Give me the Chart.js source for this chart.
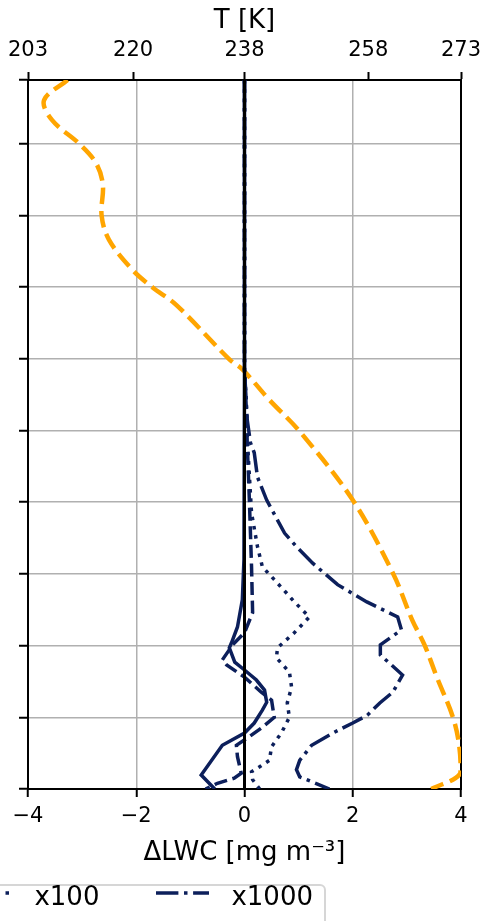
<!DOCTYPE html>
<html>
<head>
<meta charset="utf-8">
<script src="https://cdn.jsdelivr.net/npm/chart.js"></script>
<style>
  html, body { margin: 0; padding: 0; background: #fff; overflow: hidden; }
  body { width: 485px; height: 921px; position: relative; font-family: 'DejaVu Sans', sans-serif; }
  #c { position: absolute; left: 0; top: 0; }
  #legendBox {
    position: absolute; left: -340px; top: 884px; width: 666px; height: 70px;
    border: 2px solid #d6d6d6; border-radius: 6px; background: #fff; box-sizing: border-box;
  }
  #legendRow {
    position: absolute; right: 172px; top: 883px; height: 26px;
    display: flex; align-items: center; font-size: 26px; line-height: 26px; color: #000;
    white-space: nowrap;
  }
  .item { display: flex; align-items: center; margin-left: 57px; }
  .item svg { margin-right: 22px; }
</style>
</head>
<body>
<canvas id="c" width="485" height="921"></canvas>
<div id="legendBox"></div>
<div id="legendRow"></div>
<script>
const navy = '#0c1f5b'

// vertical levels (axis has no labels), top of axis at yTop
const yTop = 9.89
const yTicks = [0, 1, 2, 3, 4, 5, 6, 7, 8, 9, 9.89]

// bottom axis: ΔLWC, top axis: temperature
const tempTicks = [203, 220, 238, 258, 273]

// temperature profile [K]
const tempLevels = [9.89, 9.61, 9.33, 9.00, 8.73, 8.43, 8.00, 7.66, 7.24, 7.00, 6.75, 5.99, 5.85, 5.43, 4.98, 4.03, 3.01, 2.36, 2.01, 1.56, 1.00, 0.61, 0.22, 0.00]
const tempValues = [209.4, 205.6, 206.9, 211.3, 214.0, 215.1, 214.9, 216.1, 219.9, 223.1, 227.0, 235.6, 237.7, 242.0, 247.0, 255.5, 262.0, 265.1, 267.1, 269.1, 271.7, 272.7, 272.9, 268.2]

// ΔLWC profiles
const x1Levels = [9.89, 5.85, 3.20, 2.64, 2.26, 2.04, 1.97, 1.77, 1.66, 1.52, 1.38, 1.21, 1.10, 0.92, 0.78, 0.61, 0.195, 0]
const x1Values = [0.0, 0.0, -0.01, -0.04, -0.13, -0.24, -0.28, -0.18, 0.0, 0.22, 0.37, 0.41, 0.33, 0.18, 0.0, -0.41, -0.80, -0.55]

const x10Levels = [9.89, 5.85, 5.19, 4.83, 4.03, 3.10, 2.46, 2.18, 2.01, 1.80, 1.73, 1.56, 1.35, 1.24, 1.14, 1.00, 0.85, 0.73, 0.61, 0.45, 0.22, 0.15, 0.08, 0]
const x10Values = [0.0, 0.0, 0.04, 0.05, 0.09, 0.13, 0.15, 0.0, -0.22, -0.41, -0.33, 0.0, 0.31, 0.50, 0.52, 0.55, 0.31, 0.09, -0.15, -0.13, -0.06, -0.19, -0.50, -0.72]

const x100Levels = [9.89, 5.85, 5.43, 4.77, 3.85, 3.38, 3.10, 2.92, 2.73, 2.61, 2.40, 2.18, 1.97, 1.83, 1.63, 1.42, 1.20, 1.00, 0.78, 0.59, 0.40, 0.31, 0.24, 0.13, 0]
const x100Values = [0.0, 0.0, 0.03, 0.06, 0.13, 0.24, 0.33, 0.55, 0.78, 0.92, 1.20, 0.92, 0.61, 0.59, 0.83, 0.87, 0.79, 0.83, 0.68, 0.50, 0.46, 0.28, 0.13, 0.15, 0.28]

const x1000Levels = [9.89, 5.85, 5.15, 4.83, 4.69, 4.35, 4.03, 3.57, 3.38, 3.15, 2.85, 2.61, 2.40, 2.22, 2.01, 1.87, 1.59, 1.35, 1.20, 1.03, 0.92, 0.78, 0.61, 0.40, 0.27, 0.17, 0]
const x1000Values = [0.0, 0.0, 0.05, 0.11, 0.18, 0.24, 0.41, 0.74, 0.96, 1.26, 1.72, 2.26, 2.83, 2.90, 2.51, 2.51, 2.92, 2.74, 2.50, 2.27, 2.00, 1.63, 1.24, 1.02, 0.96, 1.02, 1.57]

const zeroLineX = [0, 0]
const zeroLineY = [0, yTop]

const legendLabels = ['x1', 'x10', 'x100', 'x1000']
const legendDashes = ['', '13 5.6', '3.5 5.8', '22.4 5.6 3.5 5.6']

function pts(xs, ys) {
  return xs.map((v, i) => ({ x: v, y: ys[i] }))
}

const font = "'DejaVu Sans', sans-serif"

// keep the plot box where it is, tick labels may hang over the edge
function noLabelPadding(s) {
  s.paddingLeft = 0
  s.paddingRight = 0
}

const data = {
  datasets: [
    { data: pts(zeroLineX, zeroLineY), borderColor: '#000', borderWidth: 3 },
    { data: pts(x1Values, x1Levels), borderColor: navy, borderWidth: 3.5 },
    { data: pts(x10Values, x10Levels), borderColor: navy, borderWidth: 3.5, borderDash: [13, 5.6] },
    { data: pts(x100Values, x100Levels), borderColor: navy, borderWidth: 3.5, borderDash: [3.5, 5.8] },
    { data: pts(x1000Values, x1000Levels), borderColor: navy, borderWidth: 3.5, borderDash: [22.4, 5.6, 3.5, 5.6] },
    { data: pts(tempValues, tempLevels), xAxisID: 'x2', borderColor: '#ffa500', borderWidth: 4.5, borderDash: [16.5, 7], tension: 0.35 }
  ]
}

const config = {
  type: 'scatter',
  data: data,
  options: {
    responsive: false,
    devicePixelRatio: 1,
    animation: false,
    showLine: true,
    elements: { point: { radius: 0 }, line: { tension: 0, fill: false } },
    layout: { padding: { top: 0, left: 0, right: 0, bottom: 52 } },
    plugins: { legend: { display: false }, tooltip: { enabled: false } },
    scales: {
      x: {
        type: 'linear', position: 'bottom', min: -4, max: 4,
        ticks: {
          stepSize: 2, color: '#000', padding: 7, font: { family: font, size: 21 },
          callback: v => v < 0 ? '\u2212' + Math.abs(v) : '' + v
        },
        grid: { color: '#b0b0b0', lineWidth: 1.5, tickColor: '#000', tickLength: 8, tickWidth: 2 },
        border: { color: '#000', width: 2 },
        title: { display: true, text: 'ΔLWC [mg m⁻³]', color: '#000', font: { family: font, size: 26 }, padding: 0 },
        afterFit: s => { s.height = 80; noLabelPadding(s) }
      },
      x2: {
        type: 'linear', position: 'top', min: 203, max: 273,
        afterBuildTicks: s => { s.ticks = tempTicks.map(v => ({ value: v })) },
        ticks: { color: '#000', padding: 9, font: { family: font, size: 21 } },
        grid: { drawOnChartArea: false, drawTicks: true, tickColor: '#000', tickLength: 8, tickWidth: 2 },
        border: { color: '#000', width: 2 },
        title: { display: true, text: 'T [K]', color: '#000', font: { family: font, size: 26 }, padding: { top: 6, bottom: 0 } },
        afterFit: s => { s.height = 80; noLabelPadding(s) }
      },
      y: {
        type: 'linear', position: 'left', min: 0, max: yTop,
        afterBuildTicks: s => { s.ticks = yTicks.map(v => ({ value: v })) },
        ticks: { display: false },
        grid: { color: '#b0b0b0', lineWidth: 1.5, tickColor: '#000', tickLength: 9, tickWidth: 2 },
        border: { color: '#000', width: 2 },
        afterFit: s => { s.width = 28 }
      },
      y2: {
        type: 'linear', position: 'right', min: 0, max: 1,
        ticks: { display: false },
        grid: { drawOnChartArea: false, drawTicks: false },
        border: { color: '#000', width: 2 },
        afterFit: s => { s.width = 24 }
      }
    }
  }
}

const chart = new Chart(document.getElementById('c'), config)

// legend (left part is cut off by the page edge, like the reference)
const row = document.getElementById('legendRow')
legendLabels.forEach((lab, i) => {
  const item = document.createElement('div')
  item.className = 'item'
  item.innerHTML = '<svg width="53" height="26"><line x1="0" y1="10" x2="53" y2="10" stroke="' + navy +
    '" stroke-width="3.5" stroke-dasharray="' + legendDashes[i] + '"/></svg><span>' + lab + '</span>'
  row.appendChild(item)
})
</script>
</body>
</html>
